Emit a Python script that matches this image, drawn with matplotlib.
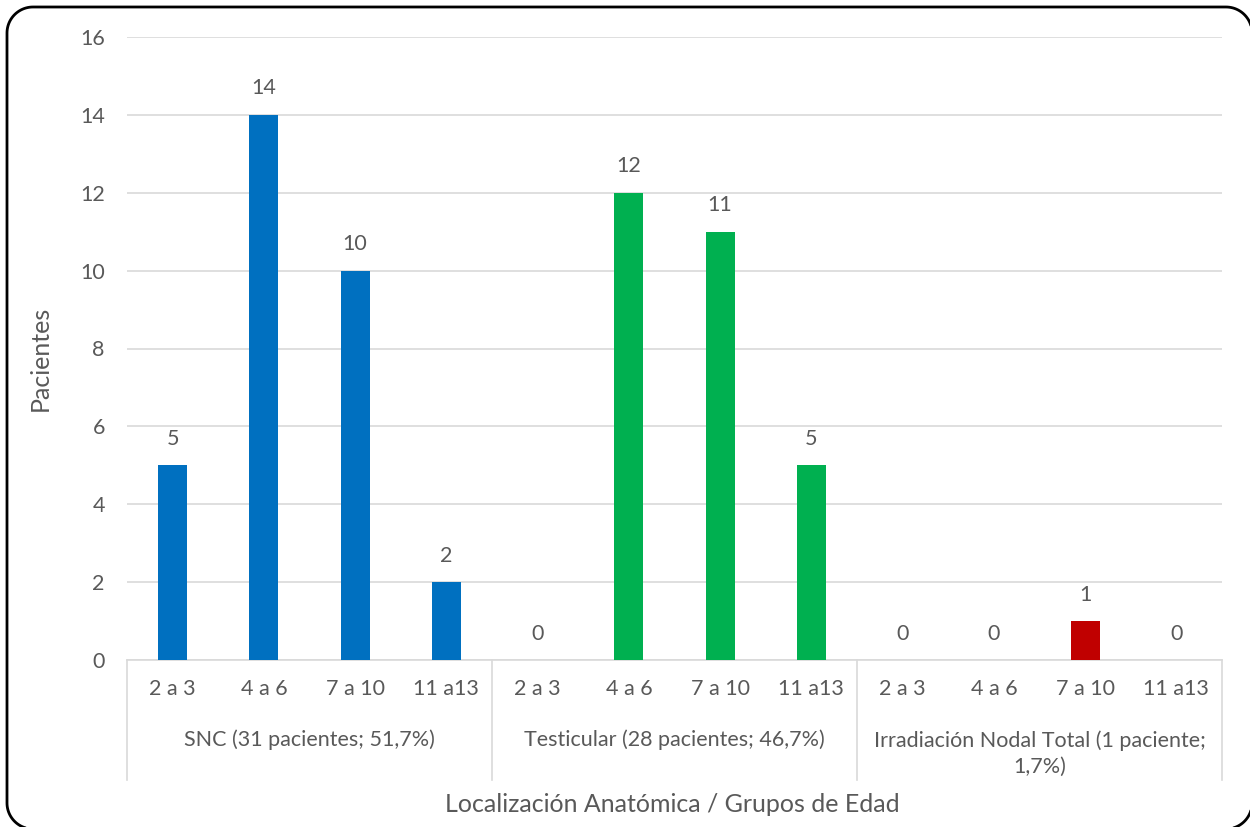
import numpy as np
import matplotlib
matplotlib.use("Agg")
import matplotlib.pyplot as plt
from matplotlib import transforms
from matplotlib.lines import Line2D
from matplotlib.path import Path
from matplotlib.patches import PathPatch

age_groups = ["2 a 3", "4 a 6", "7 a 10", "11 a13"]
locations = ["SNC (31 pacientes; 51,7%)",
             "Testicular (28 pacientes; 46,7%)",
             "Irradiación Nodal Total (1 paciente;\n1,7%)"]
snc = [5, 14, 10, 2]
testicular = [0, 12, 11, 5]
nodal = [0, 0, 1, 0]
colors = ["#0070C0", "#00B050", "#C00000"]
y_ticks = [0, 2, 4, 6, 8, 10, 12, 14, 16]

W, H = 1250, 827
plt.rcParams["font.family"] = ["Lato", "DejaVu Sans"]
text_color = "#595959"
grid_color = "#D9D9D9"
fs = 15.5

fig = plt.figure(figsize=(W / 100, H / 100), dpi=100)


def rounded_frame(x0, y0, x1, y1, r, n=24):
    """Closed rounded-rectangle outline in pixel units (y pointing up)."""
    pts = []
    corners = [(x1 - r, y1 - r, 0), (x0 + r, y1 - r, 90),
               (x0 + r, y0 + r, 180), (x1 - r, y0 + r, 270)]
    for cx, cy, a0 in corners:
        for t in np.linspace(np.radians(a0), np.radians(a0 + 90), n):
            pts.append((cx + r * np.cos(t), cy + r * np.sin(t)))
    pts.append(pts[0])
    pts = np.array(pts)
    pts[:, 0] /= W
    pts[:, 1] /= H
    return Path(pts)


fig.add_artist(PathPatch(rounded_frame(7, H - 829, 1252, H - 7, 26),
                         transform=fig.transFigure, fill=False,
                         edgecolor="black", linewidth=2.0, zorder=10))

ax = fig.add_axes([127 / W, 1 - 660 / H, (1222 - 127) / W, (660 - 37) / H])

series = [snc, testicular, nodal]
n = len(age_groups)
for g, (vals, col) in enumerate(zip(series, colors)):
    xs = [g * n + i for i in range(n)]
    ax.bar(xs, vals, width=0.32, color=col, zorder=3)
    for x, v in zip(xs, vals):
        ax.annotate(str(v), (x, v), xytext=(0, 19), textcoords="offset points",
                    ha="center", va="center", fontsize=fs, color=text_color)

ax.set_xlim(-0.5, len(series) * n - 0.5)
ax.set_ylim(0, 16)
ax.set_yticks(y_ticks)
ax.tick_params(axis="y", length=0, pad=16, labelsize=fs, labelcolor=text_color)
ax.set_xticks([])
ax.grid(axis="y", color=grid_color, linewidth=1.2, zorder=0)
for s in ["top", "right", "left"]:
    ax.spines[s].set_visible(False)
ax.spines["bottom"].set_color(grid_color)
ax.spines["bottom"].set_linewidth(1.2)

ax.set_ylabel("Pacientes", fontsize=18, color=text_color, va="center")
ax.yaxis.set_label_coords((40 - 127) / (1222 - 127), (660 - 358) / (660 - 37))

tr = transforms.blended_transform_factory(ax.transData, fig.transFigure)
for g in range(len(series)):
    for i, lab in enumerate(age_groups):
        ax.text(g * n + i, 1 - 689 / H, lab, transform=tr, ha="center", va="center",
                fontsize=fs, color=text_color)
    yc = 754 if "\n" in locations[g] else 740
    ax.text(g * n + (n - 1) / 2, 1 - yc / H, locations[g], transform=tr,
            ha="center", va="center", fontsize=fs, color=text_color,
            linespacing=1.35)
for k in range(len(series) + 1):
    x = k * n - 0.5
    ax.add_line(Line2D([x, x], [1 - 660 / H, 1 - 780 / H], transform=tr,
                       color=grid_color, linewidth=1.2, clip_on=False))

fig.text(672 / W, 1 - 805 / H, "Localización Anatómica / Grupos de Edad",
         ha="center", va="center", fontsize=18, color=text_color)

fig.savefig("out.png", dpi=100)
